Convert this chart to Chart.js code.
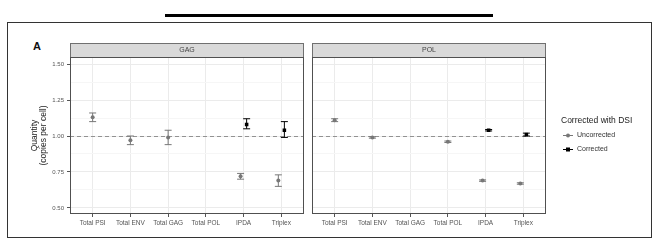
<!DOCTYPE html>
<html>
<head>
<meta charset="utf-8">
<script src="https://cdn.jsdelivr.net/npm/chart.js@4"></script>
<style>
  html, body { margin: 0; padding: 0; background: #fff; }
  #wrap { position: relative; width: 660px; height: 248px; overflow: hidden; background: #fff;
          font-family: "Liberation Sans", Arial, sans-serif; }
  #bar { position: absolute; left: 165px; top: 14px; width: 328px; height: 3px; background: #000; }
  #frame { position: absolute; left: 7px; top: 22px; width: 645px; height: 216px;
           box-sizing: border-box; border: 1.5px solid #333; }
  #tag { position: absolute; left: 33px; top: 40px; font-size: 11px; font-weight: bold; color: #111; }
  canvas { position: absolute; top: 0; }
</style>
</head>
<body>
<div id="wrap">
  <div id="bar"></div>
  <div id="frame"></div>
  <div id="tag">A</div>
  <canvas id="gag" width="308" height="248" style="left:0"></canvas>
  <canvas id="pol" width="352" height="248" style="left:308px"></canvas>
</div>
<script>
const categories = ['Total PSI', 'Total ENV', 'Total GAG', 'Total POL', 'IPDA', 'Triplex'];
const yTicks = [0.5, 0.75, 1.0, 1.25, 1.5];
const yMinor = [0.625, 0.875, 1.125, 1.375];

// GAG panel
const gagUncorrected   = [1.13, 0.97, 0.99, null, 0.72, 0.69];
const gagUncorrectedLo = [1.10, 0.94, 0.94, null, 0.70, 0.65];
const gagUncorrectedHi = [1.16, 1.00, 1.04, null, 0.74, 0.73];
const gagCorrected     = [null, null, null, null, 1.08, 1.04];
const gagCorrectedLo   = [null, null, null, null, 1.05, 0.99];
const gagCorrectedHi   = [null, null, null, null, 1.12, 1.10];

// POL panel
const polUncorrected   = [1.11, 0.99, null, 0.96, 0.69, 0.67];
const polUncorrectedLo = [1.10, 0.985, null, 0.955, 0.685, 0.665];
const polUncorrectedHi = [1.12, 0.995, null, 0.965, 0.695, 0.675];
const polCorrected     = [null, null, null, null, 1.04, 1.01];
const polCorrectedLo   = [null, null, null, null, 1.035, 1.00];
const polCorrectedHi   = [null, null, null, null, 1.045, 1.02];

const FONT = '"Liberation Sans", Arial, sans-serif';
const GREY = '#777';
const DODGE = 0.08;

Chart.defaults.font.family = FONT;

// points at category index, dodged apart when both groups are present
function points(vals, lo, hi, other, side) {
  const out = [];
  vals.forEach((v, i) => {
    if (v == null) return;
    const shift = other[i] != null ? side * DODGE : 0;
    out.push({ x: i + 1 + shift, y: v, lo: lo[i], hi: hi[i] });
  });
  return out;
}

const isMajor = v => yTicks.some(t => Math.abs(t - v) < 1e-6);

// dashed ref line + error bars, drawn under the points
const errorBars = {
  id: 'errorBars',
  beforeDatasetsDraw(chart) {
    const { ctx, chartArea: a, scales: { y } } = chart;
    ctx.save();
    ctx.strokeStyle = '#929292';
    ctx.lineWidth = 1;
    ctx.setLineDash([4, 3]);
    const y1 = Math.round(y.getPixelForValue(1)) + 0.5;
    ctx.beginPath(); ctx.moveTo(a.left, y1); ctx.lineTo(a.right, y1); ctx.stroke();
    ctx.setLineDash([]);
    chart.data.datasets.forEach((ds, i) => {
      const meta = chart.getDatasetMeta(i);
      ctx.strokeStyle = ds.borderColor;
      ds.data.forEach((p, j) => {
        const x = meta.data[j].x;
        const yl = y.getPixelForValue(p.lo), yh = y.getPixelForValue(p.hi);
        ctx.beginPath();
        ctx.moveTo(x, yl); ctx.lineTo(x, yh);
        ctx.moveTo(x - 3.5, yl); ctx.lineTo(x + 3.5, yl);
        ctx.moveTo(x - 3.5, yh); ctx.lineTo(x + 3.5, yh);
        ctx.stroke();
      });
    });
    ctx.restore();
  }
};

// panel border + facet strip
const panelFrame = {
  id: 'panelFrame',
  afterDraw(chart, args, opts) {
    const { ctx, chartArea: a } = chart;
    ctx.save();
    ctx.lineWidth = 1;
    ctx.fillStyle = '#d9d9d9';
    ctx.strokeStyle = '#707070';
    ctx.fillRect(a.left, a.top - 14, a.right - a.left, 14);
    ctx.strokeRect(a.left + 0.5, a.top - 13.5, a.right - a.left - 1, 14);
    ctx.strokeStyle = '#505050';
    ctx.strokeRect(a.left + 0.5, a.top + 0.5, a.right - a.left - 1, a.bottom - a.top - 1);
    ctx.fillStyle = '#444';
    ctx.font = '7px ' + FONT;
    ctx.textAlign = 'center';
    ctx.textBaseline = 'middle';
    ctx.fillText(opts.label, (a.left + a.right) / 2, a.top - 7);
    ctx.restore();
  }
};

const legendBox = {
  id: 'legendBox',
  afterDraw(chart) {
    const { ctx } = chart;
    ctx.save();
    ctx.fillStyle = '#222';
    ctx.font = '8.5px ' + FONT;
    ctx.textBaseline = 'middle';
    ctx.fillText('Corrected with DSI', 253, 121);
    const items = [['Uncorrected', GREY, 'circle', 135], ['Corrected', '#000', 'rect', 149]];
    ctx.font = '7px ' + FONT;
    items.forEach(([label, col, shape, yy]) => {
      ctx.strokeStyle = col; ctx.fillStyle = col; ctx.lineWidth = 1;
      ctx.beginPath(); ctx.moveTo(255, yy + 0.5); ctx.lineTo(265, yy + 0.5); ctx.stroke();
      ctx.beginPath();
      if (shape === 'circle') { ctx.arc(260, yy + 0.5, 2, 0, Math.PI * 2); ctx.fill(); }
      else ctx.fillRect(258, yy - 1.5, 4, 4);
      ctx.fillStyle = '#333';
      ctx.fillText(label, 269, yy);
    });
    ctx.restore();
  }
};

function makeChart(id, label, unc, cor, showY, pad, withLegend) {
  const datasets = [
    { label: 'Uncorrected', data: unc, borderColor: GREY, backgroundColor: GREY,
      pointStyle: 'circle', pointRadius: 2, borderWidth: 0 },
    { label: 'Corrected', data: cor, borderColor: '#000', backgroundColor: '#000',
      pointStyle: 'rect', pointRadius: 2.5, borderWidth: 0 }
  ];
  return new Chart(document.getElementById(id), {
    type: 'scatter',
    data: { datasets },
    plugins: withLegend ? [errorBars, panelFrame, legendBox] : [errorBars, panelFrame],
    options: {
      responsive: false,
      animation: false,
      devicePixelRatio: 1,
      events: [],
      layout: { padding: pad },
      plugins: { legend: { display: false }, tooltip: { enabled: false }, panelFrame: { label } },
      scales: {
        x: {
          type: 'linear', min: 0.4, max: 6.6,
          afterBuildTicks: s => { s.ticks = categories.map((c, i) => ({ value: i + 1 })); },
          afterFit: s => { s.height = 20; },
          ticks: { callback: v => categories[v - 1], color: '#555', font: { size: 6.5 },
                   padding: 2, maxRotation: 0, autoSkip: false },
          grid: { color: '#ebebeb', tickColor: '#555', tickLength: 3 },
          border: { display: false }
        },
        y: {
          min: 0.458, max: 1.549,
          afterBuildTicks: s => { s.ticks = [...yTicks, ...yMinor].sort((a, b) => a - b).map(v => ({ value: v })); },
          afterFit: s => { s.width = showY ? 70 : 0; },
          ticks: { display: showY, callback: v => isMajor(v) ? v.toFixed(2) : '',
                   color: '#555', font: { size: 6 }, padding: 3 },
          grid: {
            color: c => isMajor(c.tick.value) ? '#ebebeb' : '#f6f6f6',
            tickColor: c => isMajor(c.tick.value) ? '#555' : 'rgba(0,0,0,0)',
            tickLength: 3, drawTicks: showY
          },
          border: { display: false },
          title: { display: showY, text: ['Quantity', '(copies per cell)'], color: '#222',
                   font: { size: 8.5, lineHeight: 1.05 }, padding: { top: 30, bottom: 0 } }
        }
      }
    }
  });
}

makeChart('gag', 'GAG',
  points(gagUncorrected, gagUncorrectedLo, gagUncorrectedHi, gagCorrected, -1),
  points(gagCorrected, gagCorrectedLo, gagCorrectedHi, gagUncorrected, 1),
  true, { top: 57, right: 3, bottom: 14, left: 0 }, false);

makeChart('pol', 'POL',
  points(polUncorrected, polUncorrectedLo, polUncorrectedHi, polCorrected, -1),
  points(polCorrected, polCorrectedLo, polCorrectedHi, polUncorrected, 1),
  false, { top: 57, right: 114, bottom: 14, left: 2 }, true);
</script>
</body>
</html>
